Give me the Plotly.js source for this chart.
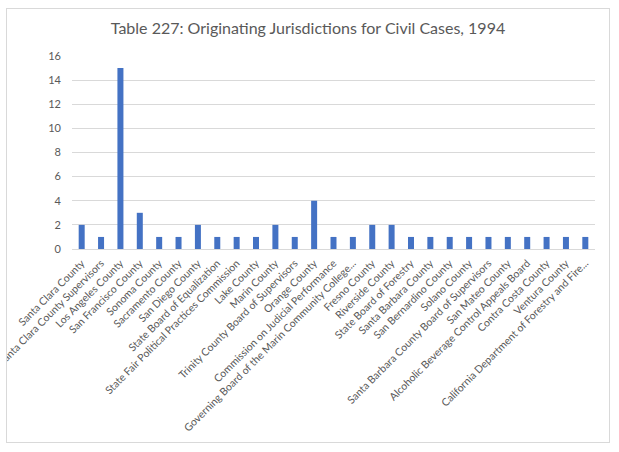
<!DOCTYPE html>
<html>
<head>
<meta charset="utf-8">
<script src="https://cdn.plot.ly/plotly-3.0.1.min.js"></script>
<style>
  html, body { margin: 0; padding: 0; background: #ffffff; }
  #chart { position: absolute; left: 6px; top: 8px; width: 602px; height: 433px; border: 1px solid #d9d9d9; }
</style>
</head>
<body>
<div id="chart"></div>
<script>
const categories = [
  "Santa Clara County",
  "Santa Clara County Supervisors",
  "Los Angeles County",
  "San Francisco County",
  "Sonoma County",
  "Sacramento County",
  "San Diego County",
  "State Board of Equalization",
  "State Fair Political Practices Commission",
  "Lake County",
  "Marin County",
  "Trinity County Board of Supervisors",
  "Orange County",
  "Commission on Judicial Performance",
  "Governing Board of the Marin Community College...",
  "Fresno County",
  "Riverside County",
  "State Board of Forestry",
  "Santa Barbara County",
  "San Bernardino County",
  "Solano County",
  "Santa Barbara County Board of Supervisors",
  "San Mateo County",
  "Alcoholic Beverage Control Appeals Board",
  "Contra Costa County",
  "Ventura County",
  "California Department of Forestry and Fire..."
];
const counts = [2, 1, 15, 3, 1, 1, 2, 1, 1, 1, 2, 1, 4, 1, 1, 2, 2, 1, 1, 1, 1, 1, 1, 1, 1, 1, 1];
const yTicks = [0, 2, 4, 6, 8, 10, 12, 14, 16];
const titleText = "Table 227: Originating Jurisdictions for Civil Cases, 1994";

const font = "Lato, 'Open Sans', sans-serif";
const data = [{
  type: "bar",
  x: categories,
  y: counts,
  marker: { color: "#4472C4" },
  hoverinfo: "x+y"
}];
const layout = {
  width: 602,
  height: 433,
  margin: { l: 65, r: 14, t: 47, b: 193, pad: 0 },
  paper_bgcolor: "#ffffff",
  plot_bgcolor: "#ffffff",
  bargap: 0.69,
  showlegend: false,
  font: { family: font, color: "#595959" },
  title: {
    text: titleText,
    font: { family: font, size: 16, color: "#595959" },
    x: 0.5, xanchor: "center",
    y: 1, yref: "container", yanchor: "top", pad: { t: 14 }
  },
  xaxis: {
    type: "category",
    tickangle: -45,
    tickfont: { family: font, size: 10.5, color: "#595959" },
    showgrid: false,
    showline: true,
    linecolor: "#d9d9d9",
    linewidth: 1,
    ticks: "",
    ticklabelstandoff: 3,
    automargin: false,
    fixedrange: true
  },
  yaxis: {
    range: [0, 16],
    tickvals: yTicks,
    ticktext: yTicks.map(String),
    tickfont: { family: font, size: 11, color: "#595959" },
    showgrid: true,
    gridcolor: "#d9d9d9",
    zeroline: false,
    showline: false,
    ticks: "",
    ticklabelstandoff: 10,
    automargin: false,
    fixedrange: true
  }
};
Plotly.newPlot("chart", data, layout, { displayModeBar: false, staticPlot: true });
</script>
</body>
</html>
